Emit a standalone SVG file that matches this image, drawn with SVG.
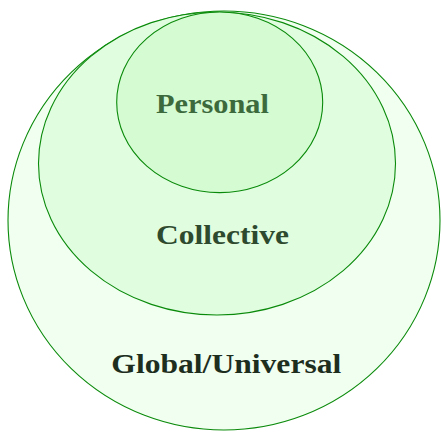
<svg xmlns="http://www.w3.org/2000/svg" width="441" height="432" viewBox="0 0 441 432">
<style>
.ring{stroke:#0a8a0a;stroke-width:1.1}
.lbl{font-family:"Liberation Serif","Times New Roman",serif;font-weight:bold;font-size:27px;text-anchor:middle}
</style>
<rect width="441" height="432" fill="#ffffff"/>
<g id="global">
<ellipse class="ring" cx="224" cy="220.5" rx="216" ry="209.5" fill="#f0fff0"/>
<text class="lbl" x="226.3" y="372.7" textLength="230" lengthAdjust="spacingAndGlyphs" fill="#1e2e1e">Global/Universal</text>
</g>
<g id="collective">
<ellipse class="ring" cx="217" cy="163.5" rx="178.5" ry="151.5" fill="#e1fde0"/>
<text class="lbl" x="222.5" y="244.3" textLength="133" lengthAdjust="spacingAndGlyphs" fill="#2e4a2e">Collective</text>
</g>
<g id="personal">
<ellipse class="ring" cx="219.7" cy="102.3" rx="103" ry="90.3" fill="#d4fbd2"/>
<text class="lbl" x="212.5" y="113" textLength="113" lengthAdjust="spacingAndGlyphs" fill="#3d6a3d">Personal</text>
</g>
<g id="connectors"/>
</svg>
